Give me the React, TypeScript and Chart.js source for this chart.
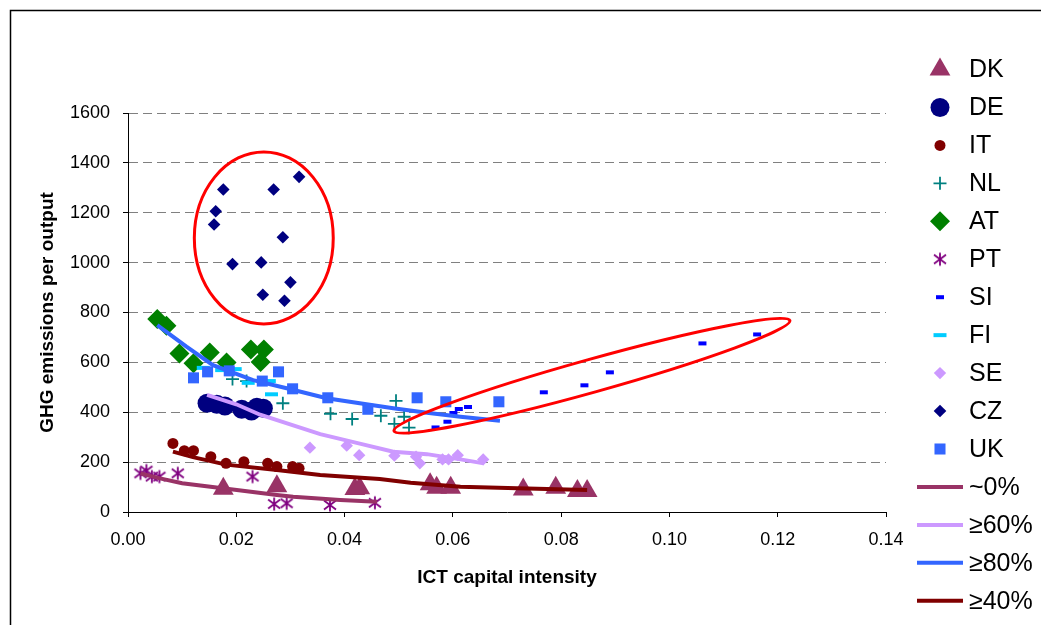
import React, { useEffect, useRef } from 'react';
import { Chart, registerables } from 'chart.js';
import { drawPoint } from 'chart.js/helpers';

Chart.register(...registerables);

// ---------- data ----------
const DK_X = [0.0176, 0.0275, 0.0419, 0.0428, 0.0558, 0.0570, 0.0596, 0.0730, 0.0790, 0.0830, 0.0848];
const DK_Y = [93, 103, 92, 95, 111, 97, 97, 90, 97, 84, 84];

const DE_X = [0.0146, 0.0164, 0.0179, 0.0210, 0.0228, 0.0238, 0.0250];
const DE_Y = [436, 432, 425, 412, 405, 420, 416];

const IT_X = [0.0083, 0.0104, 0.0121, 0.0153, 0.0181, 0.0214, 0.0258, 0.0275, 0.0304, 0.0316];
const IT_Y = [275, 246, 246, 222, 195, 202, 195, 182, 182, 175];

const NL_X = [0.0193, 0.0219, 0.0286, 0.0374, 0.0414, 0.0467, 0.0492, 0.0495, 0.0510, 0.0519];
const NL_Y = [533, 525, 436, 394, 373, 386, 353, 446, 382, 338];

const AT_X = [0.0054, 0.0071, 0.0095, 0.0121, 0.0151, 0.0182, 0.0227, 0.0251, 0.0245];
const AT_Y = [774, 747, 636, 596, 640, 600, 652, 652, 602];

const PT_X = [0.0023, 0.0034, 0.0044, 0.0058, 0.0092, 0.0230, 0.0270, 0.0293, 0.0373, 0.0456];
const PT_Y = [155, 166, 142, 142, 155, 142, 32, 35, 28, 37];

const SI_X = [0.0568, 0.0590, 0.0601, 0.0611, 0.0628, 0.0768, 0.0843, 0.0890, 0.1061, 0.1162];
const SI_Y = [339, 362, 397, 413, 421, 480, 508, 560, 676, 712];

const FI_X = [0.0139, 0.0173, 0.0198, 0.0222, 0.0261, 0.0265];
const FI_Y = [578, 569, 573, 518, 525, 472];

const SE_X = [0.0336, 0.0404, 0.0427, 0.0492, 0.0532, 0.0539, 0.0581, 0.0592, 0.0609, 0.0656];
const SE_Y = [258, 266, 228, 226, 222, 195, 211, 211, 228, 211];

const CZ_X = [0.0176, 0.0269, 0.0316, 0.0162, 0.0159, 0.0286, 0.0193, 0.0246, 0.0300, 0.0249, 0.0289];
const CZ_Y = [1293, 1293, 1344, 1206, 1153, 1102, 994, 1001, 921, 871, 847];

const UK_X = [0.0121, 0.0147, 0.0187, 0.0248, 0.0278, 0.0304, 0.0369, 0.0443, 0.0534, 0.0587, 0.0685];
const UK_Y = [538, 562, 566, 525, 562, 494, 458, 412, 458, 442, 442];

// trend lines
const T0_X = [0.0023, 0.0059, 0.0100, 0.0201, 0.0275, 0.0305, 0.0392, 0.0460];
const T0_Y = [155, 135, 115, 88, 68, 61, 48, 41];

const T60_X = [0.0146, 0.0200, 0.0244, 0.0355, 0.0430, 0.0490, 0.0552, 0.0614, 0.0657];
const T60_Y = [470, 432, 390, 312, 273, 242, 232, 211, 195];

const T80_X = [0.0054, 0.0108, 0.0157, 0.0231, 0.0293, 0.0367, 0.0428, 0.0490, 0.0552, 0.0614, 0.0687];
const T80_Y = [749, 663, 589, 529, 496, 456, 436, 416, 398, 382, 366];

const T40_X = [0.0083, 0.0120, 0.0181, 0.0275, 0.0355, 0.0465, 0.0522, 0.0614, 0.0719, 0.0848];
const T40_Y = [242, 220, 190, 168, 148, 132, 117, 101, 95, 88];

const X_MIN = 0;
const X_MAX = 0.14;
const X_STEP = 0.02;
const Y_MIN = 0;
const Y_MAX = 1600;
const Y_STEP = 200;

const X_TITLE = 'ICT capital intensity';
const Y_TITLE = 'GHG emissions per output';

// highlighted regions (data coordinates)
const ELLIPSE_CZ = { cx: 0.02508, cy: 1099, rx: 0.01283, ry: 345 };
const ELLIPSE_SI = { x1: 0.04912, y1: 325, x2: 0.12225, y2: 768, halfWidthPx: 16.5 };

// ---------- helpers ----------
const zip = (xs: number[], ys: number[]) => xs.map((x, i) => ({ x, y: ys[i] }));

const FONT = "'Liberation Sans', Arial, sans-serif";

function makeAsterisk(color: string): HTMLCanvasElement {
  const c = document.createElement('canvas');
  c.width = 16;
  c.height = 16;
  const g = c.getContext('2d')!;
  g.strokeStyle = color;
  g.lineWidth = 1.8;
  g.beginPath();
  g.moveTo(8, 1.5);
  g.lineTo(8, 14.5);
  g.moveTo(2, 3.5);
  g.lineTo(14, 12.5);
  g.moveTo(2, 12.5);
  g.lineTo(14, 3.5);
  g.stroke();
  return c;
}

const framePlugin = {
  id: 'frame',
  beforeDraw(chart: any) {
    const ctx = chart.ctx;
    ctx.save();
    ctx.fillStyle = '#ffffff';
    ctx.fillRect(0, 0, chart.width, chart.height);
    ctx.strokeStyle = '#000000';
    ctx.lineWidth = 1.5;
    ctx.strokeRect(10.5, 10.5, chart.width + 50, chart.height + 50);
    ctx.restore();
  },
};

const ellipsePlugin = {
  id: 'ellipses',
  afterDatasetsDraw(chart: any) {
    const { ctx } = chart;
    const xs = chart.scales.x;
    const ys = chart.scales.y;
    ctx.save();
    ctx.strokeStyle = '#FF0000';
    ctx.lineWidth = 3;
    // CZ cluster
    const cx = xs.getPixelForValue(ELLIPSE_CZ.cx);
    const cy = ys.getPixelForValue(ELLIPSE_CZ.cy);
    const rx = Math.abs(xs.getPixelForValue(ELLIPSE_CZ.cx + ELLIPSE_CZ.rx) - cx);
    const ry = Math.abs(ys.getPixelForValue(ELLIPSE_CZ.cy + ELLIPSE_CZ.ry) - cy);
    ctx.beginPath();
    ctx.ellipse(cx, cy, rx, ry, 0, 0, Math.PI * 2);
    ctx.stroke();
    // SI band
    const p1x = xs.getPixelForValue(ELLIPSE_SI.x1);
    const p1y = ys.getPixelForValue(ELLIPSE_SI.y1);
    const p2x = xs.getPixelForValue(ELLIPSE_SI.x2);
    const p2y = ys.getPixelForValue(ELLIPSE_SI.y2);
    const mx = (p1x + p2x) / 2;
    const my = (p1y + p2y) / 2;
    const a = Math.hypot(p2x - p1x, p2y - p1y) / 2;
    const ang = Math.atan2(p2y - p1y, p2x - p1x);
    ctx.beginPath();
    ctx.ellipse(mx, my, a, ELLIPSE_SI.halfWidthPx, ang, 0, Math.PI * 2);
    ctx.stroke();
    ctx.restore();
  },
};

const LEGEND_MARK_X = 940;
const LEGEND_LINE_X1 = 917;
const LEGEND_LINE_X2 = 963;
const LEGEND_TEXT_X = 969;
const LEGEND_TOP = 69.5;
const LEGEND_STEP = 37.95;

const legendPlugin = {
  id: 'sideLegend',
  afterDraw(chart: any) {
    const { ctx } = chart;
    ctx.save();
    chart.data.datasets.forEach((ds: any, i: number) => {
      const y = LEGEND_TOP + i * LEGEND_STEP;
      if (ds.showLine) {
        ctx.strokeStyle = ds.borderColor;
        ctx.lineWidth = 4;
        ctx.lineCap = 'butt';
        ctx.beginPath();
        ctx.moveTo(LEGEND_LINE_X1, y);
        ctx.lineTo(LEGEND_LINE_X2, y);
        ctx.stroke();
      } else {
        ctx.fillStyle = ds.backgroundColor;
        ctx.strokeStyle = ds.borderColor;
        ctx.lineWidth = ds.borderWidth;
        drawPoint(ctx, { pointStyle: ds.pointStyle, radius: ds.pointRadius, borderWidth: ds.borderWidth, rotation: 0 } as any, LEGEND_MARK_X, y);
      }
      ctx.fillStyle = '#000000';
      ctx.font = `25px ${FONT}`;
      ctx.textAlign = 'left';
      ctx.textBaseline = 'middle';
      ctx.fillText(ds.label, LEGEND_TEXT_X, y + 1);
    });
    ctx.restore();
  },
};

export default function App() {
  const ref = useRef<HTMLCanvasElement | null>(null);

  useEffect(() => {
    if (!ref.current) return;
    const asterisk = makeAsterisk('#800080');
    const points = (label: string, xs: number[], ys: number[], color: string, style: any, radius: number, bw = 0, border?: string) => ({
      label,
      data: zip(xs, ys),
      backgroundColor: color,
      borderColor: border || color,
      borderWidth: bw,
      pointStyle: style,
      pointRadius: radius,
      pointHoverRadius: radius,
      showLine: false,
    });
    const trend = (label: string, xs: number[], ys: number[], color: string) => ({
      label,
      data: zip(xs, ys),
      borderColor: color,
      backgroundColor: color,
      borderWidth: 4,
      pointRadius: 0,
      pointHoverRadius: 0,
      showLine: true,
      tension: 0,
      fill: false,
    });
    const datasets: any[] = [
      points('DK', DK_X, DK_Y, '#993366', 'triangle', 12),
      points('DE', DE_X, DE_Y, '#000080', 'circle', 9.5),
      points('IT', IT_X, IT_Y, '#800000', 'circle', 5.5),
      points('NL', NL_X, NL_Y, '#008080', 'cross', 6.5, 1.8),
      points('AT', AT_X, AT_Y, '#008000', 'rectRot', 10),
      points('PT', PT_X, PT_Y, '#800080', asterisk, 7),
      points('SI', SI_X, SI_Y, '#0000FF', 'line', 4, 4),
      points('FI', FI_X, FI_Y, '#00CCFF', 'line', 6.5, 4),
      points('SE', SE_X, SE_Y, '#CC99FF', 'rectRot', 6.2),
      points('CZ', CZ_X, CZ_Y, '#000080', 'rectRot', 6.3),
      points('UK', UK_X, UK_Y, '#3366FF', 'rect', 7.8),
      trend('~0%', T0_X, T0_Y, '#993366'),
      trend('≥60%', T60_X, T60_Y, '#CC99FF'),
      trend('≥80%', T80_X, T80_Y, '#3366FF'),
      trend('≥40%', T40_X, T40_Y, '#800000'),
    ];
    const n = datasets.length;
    datasets.forEach((d, i) => (d.order = n - i));

    const chart = new Chart(ref.current, {
      type: 'scatter',
      data: { datasets },
      options: {
        animation: false,
        responsive: false,
        devicePixelRatio: 1,
        events: [],
        layout: { padding: { top: 113, right: 155, left: 0, bottom: 0 } },
        plugins: { legend: { display: false }, tooltip: { enabled: false } },
        scales: {
          x: {
            type: 'linear',
            min: X_MIN,
            max: X_MAX,
            afterFit: (s: any) => { s.height = 113; },
            ticks: {
              stepSize: X_STEP,
              color: '#000',
              padding: 12,
              font: { family: FONT, size: 18 },
              callback: (v: any) => Number(v).toFixed(2),
            },
            grid: { drawOnChartArea: false, drawTicks: true, tickLength: 5, tickColor: '#000', tickWidth: 1 },
            border: { color: '#000', width: 1 },
            title: {
              display: true,
              text: X_TITLE,
              color: '#000',
              font: { family: FONT, size: 19, weight: 'bold' },
              padding: { top: 0, bottom: 35.6 },
            },
          },
          y: {
            type: 'linear',
            min: Y_MIN,
            max: Y_MAX,
            afterFit: (s: any) => { s.width = 128; },
            ticks: {
              stepSize: Y_STEP,
              color: '#000',
              padding: 13,
              font: { family: FONT, size: 18 },
              callback: (v: any) => String(Math.round(Number(v))),
            },
            grid: {
              color: (c: any) => (c.tick && c.tick.value === 0 ? 'rgba(0,0,0,0)' : '#808080'),
              lineWidth: 1,
              drawTicks: true,
              tickLength: 5,
              tickColor: '#000',
              tickWidth: 1,
              tickBorderDash: [],
            },
            border: { color: '#000', width: 1, dash: [9, 5] },
            title: {
              display: true,
              text: Y_TITLE,
              color: '#000',
              font: { family: FONT, size: 19, weight: 'bold' },
              padding: { top: 36.6, bottom: 0 },
            },
          },
        },
      } as any,
      plugins: [framePlugin, ellipsePlugin, legendPlugin],
    });
    return () => chart.destroy();
  }, []);

  return (
    <div style={{ position: 'fixed', left: 0, top: 0, width: 1041, height: 625, background: '#fff', overflow: 'hidden' }}>
      <canvas ref={ref} width={1041} height={625} style={{ display: 'block', width: 1041, height: 625 }} />
    </div>
  );
}
